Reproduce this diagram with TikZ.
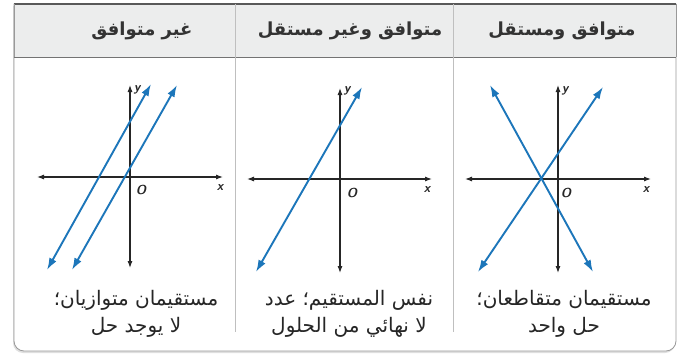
\documentclass[tikz,border=0pt]{standalone}
\usepackage{fontspec}
\newfontfamily\arabicfont[Script=Arabic]{DejaVu Sans}
\TeXXeTstate=1
\usetikzlibrary{arrows.meta,shadows}
\definecolor{lineblue}{RGB}{28,118,186}
\definecolor{headgray}{RGB}{236,237,237}

\begin{document}
\begin{tikzpicture}[x=1pt, y=-1pt,
    axis/.style={{Latex[length=7pt,width=5pt]}-{Latex[length=7pt,width=5pt]}, line width=1.1pt, black!85},
    sysline/.style={{Latex[length=12pt,width=8pt]}-{Latex[length=12pt,width=8pt]}, line width=1.9pt, lineblue},
    headtext/.style={font=\arabicfont\bfseries\fontsize{18}{20}\selectfont, text=black!80},
    celltext/.style={font=\arabicfont\fontsize{20}{27}\selectfont, align=center, text=black!85},
    axislabel/.style={font=\sffamily\bfseries\itshape\fontsize{13}{15}\selectfont, text=black!85}]
    \useasboundingbox (0,0) rectangle (686,356);

    % Table frame, rounded at the bottom
    \filldraw[fill=white, draw=black!40, line width=0.8pt,
      drop shadow={opacity=0.25, shadow xshift=-1pt, shadow yshift=-2pt}]
      (14,4) -- (676,4) -- (676,200) [rounded corners=10pt] -- (676,351) -- (14,351) -- (14,200) [sharp corners] -- cycle;

    % Header row
    \fill[headgray] (14,4) rectangle (676,57);
    \draw[black!65, line width=1.6pt] (14,4) -- (676,4);
    \draw[black!55, line width=0.8pt] (14,57) -- (676,57);
    \draw[black!40, line width=0.8pt] (14,4) -- (14,57) (676,4) -- (676,57);

    % Column dividers
    \draw[black!25, line width=0.8pt] (235,4) -- (235,332);
    \draw[black!25, line width=0.8pt] (453,4) -- (453,332);

    % Headings
    \node[headtext] (hincons) at (142,31) {\beginR غير متوافق\endR};
    \node[headtext] (hdep) at (350,31) {\beginR متوافق وغير مستقل\endR};
    \node[headtext] (hindep) at (562,31) {\beginR متوافق ومستقل\endR};

    % Inconsistent: parallel lines
    \draw[axis] (37,177) -- (223,177);
    \draw[axis] (130,268) -- (130,85);
    \draw[sysline] (47,270) -- (151,84);
    \draw[sysline] (72,270) -- (177,85);
    \node[axislabel] (yincons) at (137,90) {y};
    \node[axislabel] (oincons) at (141,190) {O};
    \node[axislabel] (xincons) at (220,188) {x};

    % Dependent: same line
    \draw[axis] (247,179) -- (432,179);
    \draw[axis] (340,273) -- (340,88);
    \draw[sysline] (256,272) -- (362,87);
    \node[axislabel] (ydep) at (347,91) {y};
    \node[axislabel] (odep) at (352,193) {O};
    \node[axislabel] (xdep) at (427,190) {x};

    % Independent: intersecting lines
    \draw[axis] (465,179) -- (651,179);
    \draw[axis] (558,273) -- (558,85);
    \draw[sysline] (490,85) -- (593,272);
    \draw[sysline] (478,272) -- (603,87);
    \node[axislabel] (yindep) at (565,91) {y};
    \node[axislabel] (oindep) at (566,193) {O};
    \node[axislabel] (xindep) at (646,190) {x};

    % Cell texts
    \node[celltext] (tincons) at (136,314) {\beginR مستقيمان متوازيان؛\endR\\\beginR لا يوجد حل\endR};
    \node[celltext] (tdep) at (349,314) {\beginR نفس المستقيم؛ عدد\endR\\\beginR لا نهائي من الحلول\endR};
    \node[celltext] (tindep) at (564,314) {\beginR مستقيمان متقاطعان؛\endR\\\beginR حل واحد\endR};
\end{tikzpicture}
\end{document}
